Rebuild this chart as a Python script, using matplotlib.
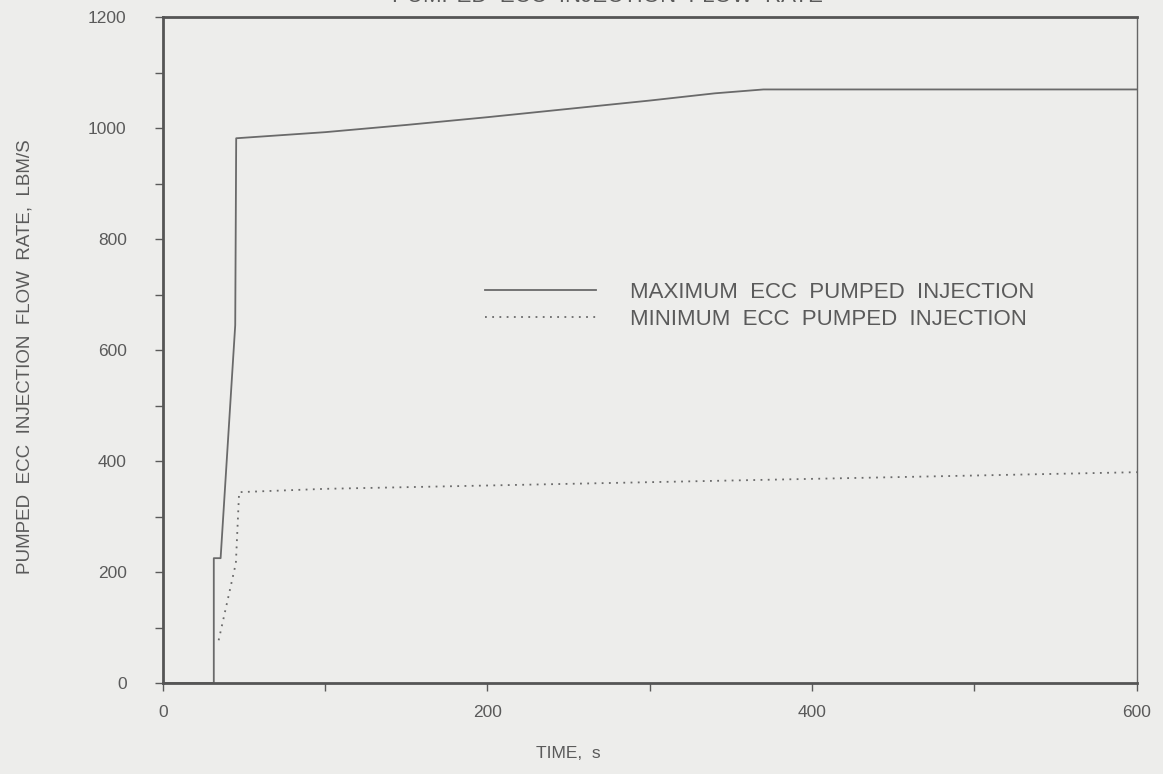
import matplotlib
matplotlib.use("Agg")
import matplotlib.pyplot as plt
from matplotlib.ticker import MultipleLocator

# ── Data ──────────────────────────────────────────────────────────────────────

TIME_MAX = [0, 31.4, 31.4, 35.6, 44.6, 45.2, 100, 150, 200, 250, 300, 340, 370, 600]
FLOW_MAX = [0, 0, 225, 225, 645, 982, 993, 1006, 1020, 1035, 1050, 1063, 1070, 1070]

TIME_MIN = [34.4, 45.0, 47.0, 100, 200, 300, 400, 500, 600]
FLOW_MIN = [77, 216, 344, 350, 356, 362, 368, 374, 380]

LABEL_MAX = "MAXIMUM  ECC  PUMPED  INJECTION"
LABEL_MIN = "MINIMUM  ECC  PUMPED  INJECTION"

X_TICKS = [0, 200, 400, 600]
Y_TICKS = [0, 200, 400, 600, 800, 1000, 1200]

INK = "#5a5a5a"
LINE = "#6a6a6a"
BG = "#ededeb"

plt.rcParams["font.family"] = ["Liberation Sans", "DejaVu Sans"]

fig = plt.figure(figsize=(11.63, 7.74), dpi=100, facecolor=BG)
ax = fig.add_axes([0.140, 0.1176, 0.8375, 0.860], facecolor=BG)

ax.plot(TIME_MAX, FLOW_MAX, color=LINE, lw=1.3, linestyle="-", label=LABEL_MAX)
ax.plot(TIME_MIN, FLOW_MIN, color=LINE, lw=1.3, linestyle=(0, (1, 3)), label=LABEL_MIN)

ax.set_xlim(0, 600)
ax.set_ylim(0, 1200)
ax.set_xticks(X_TICKS)
ax.set_yticks(Y_TICKS)
ax.xaxis.set_minor_locator(MultipleLocator(100))
ax.yaxis.set_minor_locator(MultipleLocator(100))
ax.tick_params(which="both", direction="out", colors=INK, labelcolor=INK,
               labelsize=12.5, width=1.0)
ax.tick_params(which="major", length=6)
ax.tick_params(which="minor", length=6)
ax.tick_params(axis="x", pad=10)
ax.tick_params(axis="y", pad=20)

for side in ["left", "bottom", "top"]:
    ax.spines[side].set_linewidth(2.0)
    ax.spines[side].set_color("#555555")
ax.spines["right"].set_linewidth(1.0)
ax.spines["right"].set_color("#666666")

ax.set_xlabel("TIME,  s", fontsize=12.5, color=INK)
ax.xaxis.set_label_coords(0.416, -0.095)
ax.set_ylabel("PUMPED  ECC  INJECTION  FLOW  RATE,  LBM/S", fontsize=13.5,
              color=INK)
ax.yaxis.set_label_coords(-0.133, 0.49)

leg = ax.legend(loc="upper left", bbox_to_anchor=(0.331, 0.603), frameon=False,
                fontsize=16, handlelength=5.0, handletextpad=1.5, borderpad=0,
                borderaxespad=0, labelspacing=0.3, labelcolor=INK)

# title sits mostly above the scanned page edge
fig.text(0.522, 0.997, "PUMPED  ECC  INJECTION  FLOW  RATE", fontsize=16,
         color=INK, ha="center", va="baseline")

fig.savefig("out.png", dpi=100, facecolor=BG)
